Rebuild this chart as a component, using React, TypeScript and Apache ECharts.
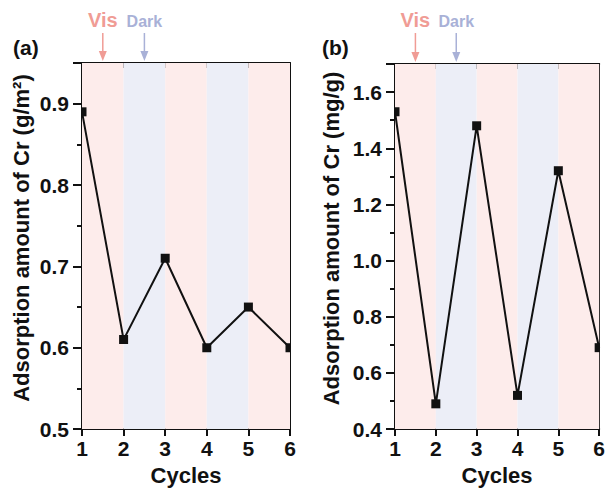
import React, { useEffect, useRef } from "react";
import * as echarts from "echarts";

const cycles = [1, 2, 3, 4, 5, 6];
const seriesA = [0.89, 0.61, 0.71, 0.6, 0.65, 0.6];
const seriesB = [1.53, 0.49, 1.48, 0.52, 1.32, 0.69];
const bandStarts = [1, 2, 3, 4, 5];
const bandKinds = ["vis", "dark", "vis", "dark", "vis"];
const yNameA = "Adsorption amount of Cr (g/m²)";
const yNameB = "Adsorption amount of Cr (mg/g)";
const panelLabels = ["(a)", "(b)"];

const PINK = "#fdeceb";
const BLUE = "#eceef7";
const VIS_COLOR = "#f09c95";
const DARK_COLOR = "#a9b1d7";
const FONT = "Liberation Sans";

export default function App() {
  const ref = useRef<HTMLDivElement>(null);
  useEffect(() => {
    if (!ref.current) return;
    const chart = echarts.init(ref.current, null, { renderer: "svg" });
    const grids = [
      { left: 82, top: 63, width: 208, height: 372 },
      { left: 395, top: 64, width: 206, height: 372 },
    ];
    const yCfg = [
      { min: 0.5, max: 0.95, interval: 0.1, minor: 0.05, name: yNameA, data: seriesA, gap: 50 },
      { min: 0.4, max: 1.7, interval: 0.2, minor: 0.1, name: yNameB, data: seriesB, gap: 53 },
    ];
    const xAxis: any[] = [];
    const yAxis: any[] = [];
    const series: any[] = [];
    grids.forEach((g, i) => {
      const c = yCfg[i];
      xAxis.push({
        type: "value", gridIndex: i, position: "bottom", min: 1, max: 6, interval: 1,
        name: "Cycles", nameLocation: "middle", nameGap: 32,
        nameTextStyle: { fontFamily: FONT, fontWeight: "bold", fontSize: 22, color: "#111" },
        axisLine: { show: true, onZero: false, lineStyle: { color: "#111", width: 2 } },
        axisTick: { show: true, length: 7, lineStyle: { color: "#111", width: 2 } },
        axisLabel: { fontFamily: FONT, fontWeight: "bold", fontSize: 21, color: "#111", margin: 9 },
        splitLine: { show: false },
      });
      xAxis.push({
        type: "value", gridIndex: i, position: "top", min: 1, max: 6, interval: 0.5,
        axisLine: { show: true, onZero: false, lineStyle: { color: "#111", width: 2 } },
        axisTick: { show: true, inside: true, length: 5, lineStyle: { color: "#111", width: 2 } },
        axisLabel: { show: false },
        splitLine: { show: false },
      });
      yAxis.push({
        type: "value", gridIndex: i, position: "left", min: c.min, max: c.max, interval: c.interval,
        name: c.name, nameLocation: "middle", nameGap: c.gap,
        nameTextStyle: { fontFamily: FONT, fontWeight: "bold", fontSize: 22, color: "#111", padding: [0, 0, 0, 16] },
        axisLine: { show: true, onZero: false, lineStyle: { color: "#111", width: 2 } },
        axisTick: { show: true, length: 9, lineStyle: { color: "#111", width: 2 } },
        axisLabel: {
          fontFamily: FONT, fontWeight: "bold", fontSize: 21, color: "#111", margin: 13,
          formatter: (v: number) => {
            const k = Math.round((v - c.min) / c.interval);
            return Math.abs(c.min + k * c.interval - v) < 1e-6 ? v.toFixed(1) : "";
          },
        },
        splitLine: { show: false },
      });
      yAxis.push({
        type: "value", gridIndex: i, position: "left", min: c.min, max: c.max, interval: c.minor,
        axisLine: { show: false, onZero: false }, axisLabel: { show: false },
        axisTick: { show: true, length: 5, lineStyle: { color: "#111", width: 2 } },
        splitLine: { show: false },
      });
      yAxis.push({
        type: "value", gridIndex: i, position: "right", min: c.min, max: c.max,
        axisLine: { show: true, onZero: false, lineStyle: { color: "#111", width: 2 } },
        axisTick: { show: false }, axisLabel: { show: false }, splitLine: { show: false },
      });
      const pts = cycles.map((x, j) => [x, c.data[j]]);
      series.push({
        type: "line", xAxisIndex: i * 2, yAxisIndex: i * 3,
        data: pts,
        symbol: "none", clip: true,
        lineStyle: { color: "#111", width: 2 },
        markArea: {
          silent: true,
          data: bandStarts.map((s, j) => [
            { xAxis: s, itemStyle: { color: bandKinds[j] === "vis" ? PINK : BLUE } },
            { xAxis: s + 1 },
          ]),
        },
        z: 3,
      });
      series.push({
        type: "custom", xAxisIndex: i * 2, yAxisIndex: i * 3,
        data: pts, clip: true, z: 4,
        renderItem: (params: any, api: any) => {
          const p = api.coord([api.value(0), api.value(1)]);
          return {
            type: "rect",
            shape: { x: p[0] - 4.5, y: p[1] - 4.5, width: 9, height: 9 },
            style: { fill: "#111" },
          };
        },
      });
    });
    chart.setOption({ animation: false, grid: grids, xAxis, yAxis, series });
    const graphic: any[] = [];
    grids.forEach((g, i) => {
      graphic.push({
        type: "text", x: i === 0 ? 13 : 322, y: 47,
        style: { text: panelLabels[i], fontFamily: FONT, fontWeight: "bold", fontSize: 21, fill: "#111", verticalAlign: "middle" },
      });
      const items = [
        { x: 1.5, label: "Vis", color: VIS_COLOR, size: 20, ty: 20 },
        { x: 2.5, label: "Dark", color: DARK_COLOR, size: 16, ty: 21 },
      ];
      items.forEach((it) => {
        const px = chart.convertToPixel({ xAxisIndex: i * 2 }, it.x) as number;
        const top = g.top;
        graphic.push({
          type: "text", x: px, y: it.ty,
          style: { text: it.label, fontFamily: FONT, fontWeight: "bold", fontSize: it.size, fill: it.color, align: "center", verticalAlign: "middle" },
        });
        graphic.push({
          type: "line", shape: { x1: px, y1: 33, x2: px, y2: top - 8 },
          style: { stroke: it.color, lineWidth: 1.5 },
        });
        graphic.push({
          type: "polygon", shape: { points: [[px - 4, top - 12], [px + 4, top - 12], [px, top - 2]] },
          style: { fill: it.color },
        });
      });
    });
    chart.setOption({ graphic });
    return () => chart.dispose();
  }, []);
  return <div ref={ref} style={{ position: "absolute", left: 0, top: 0, width: 608, height: 491 }} />;
}
